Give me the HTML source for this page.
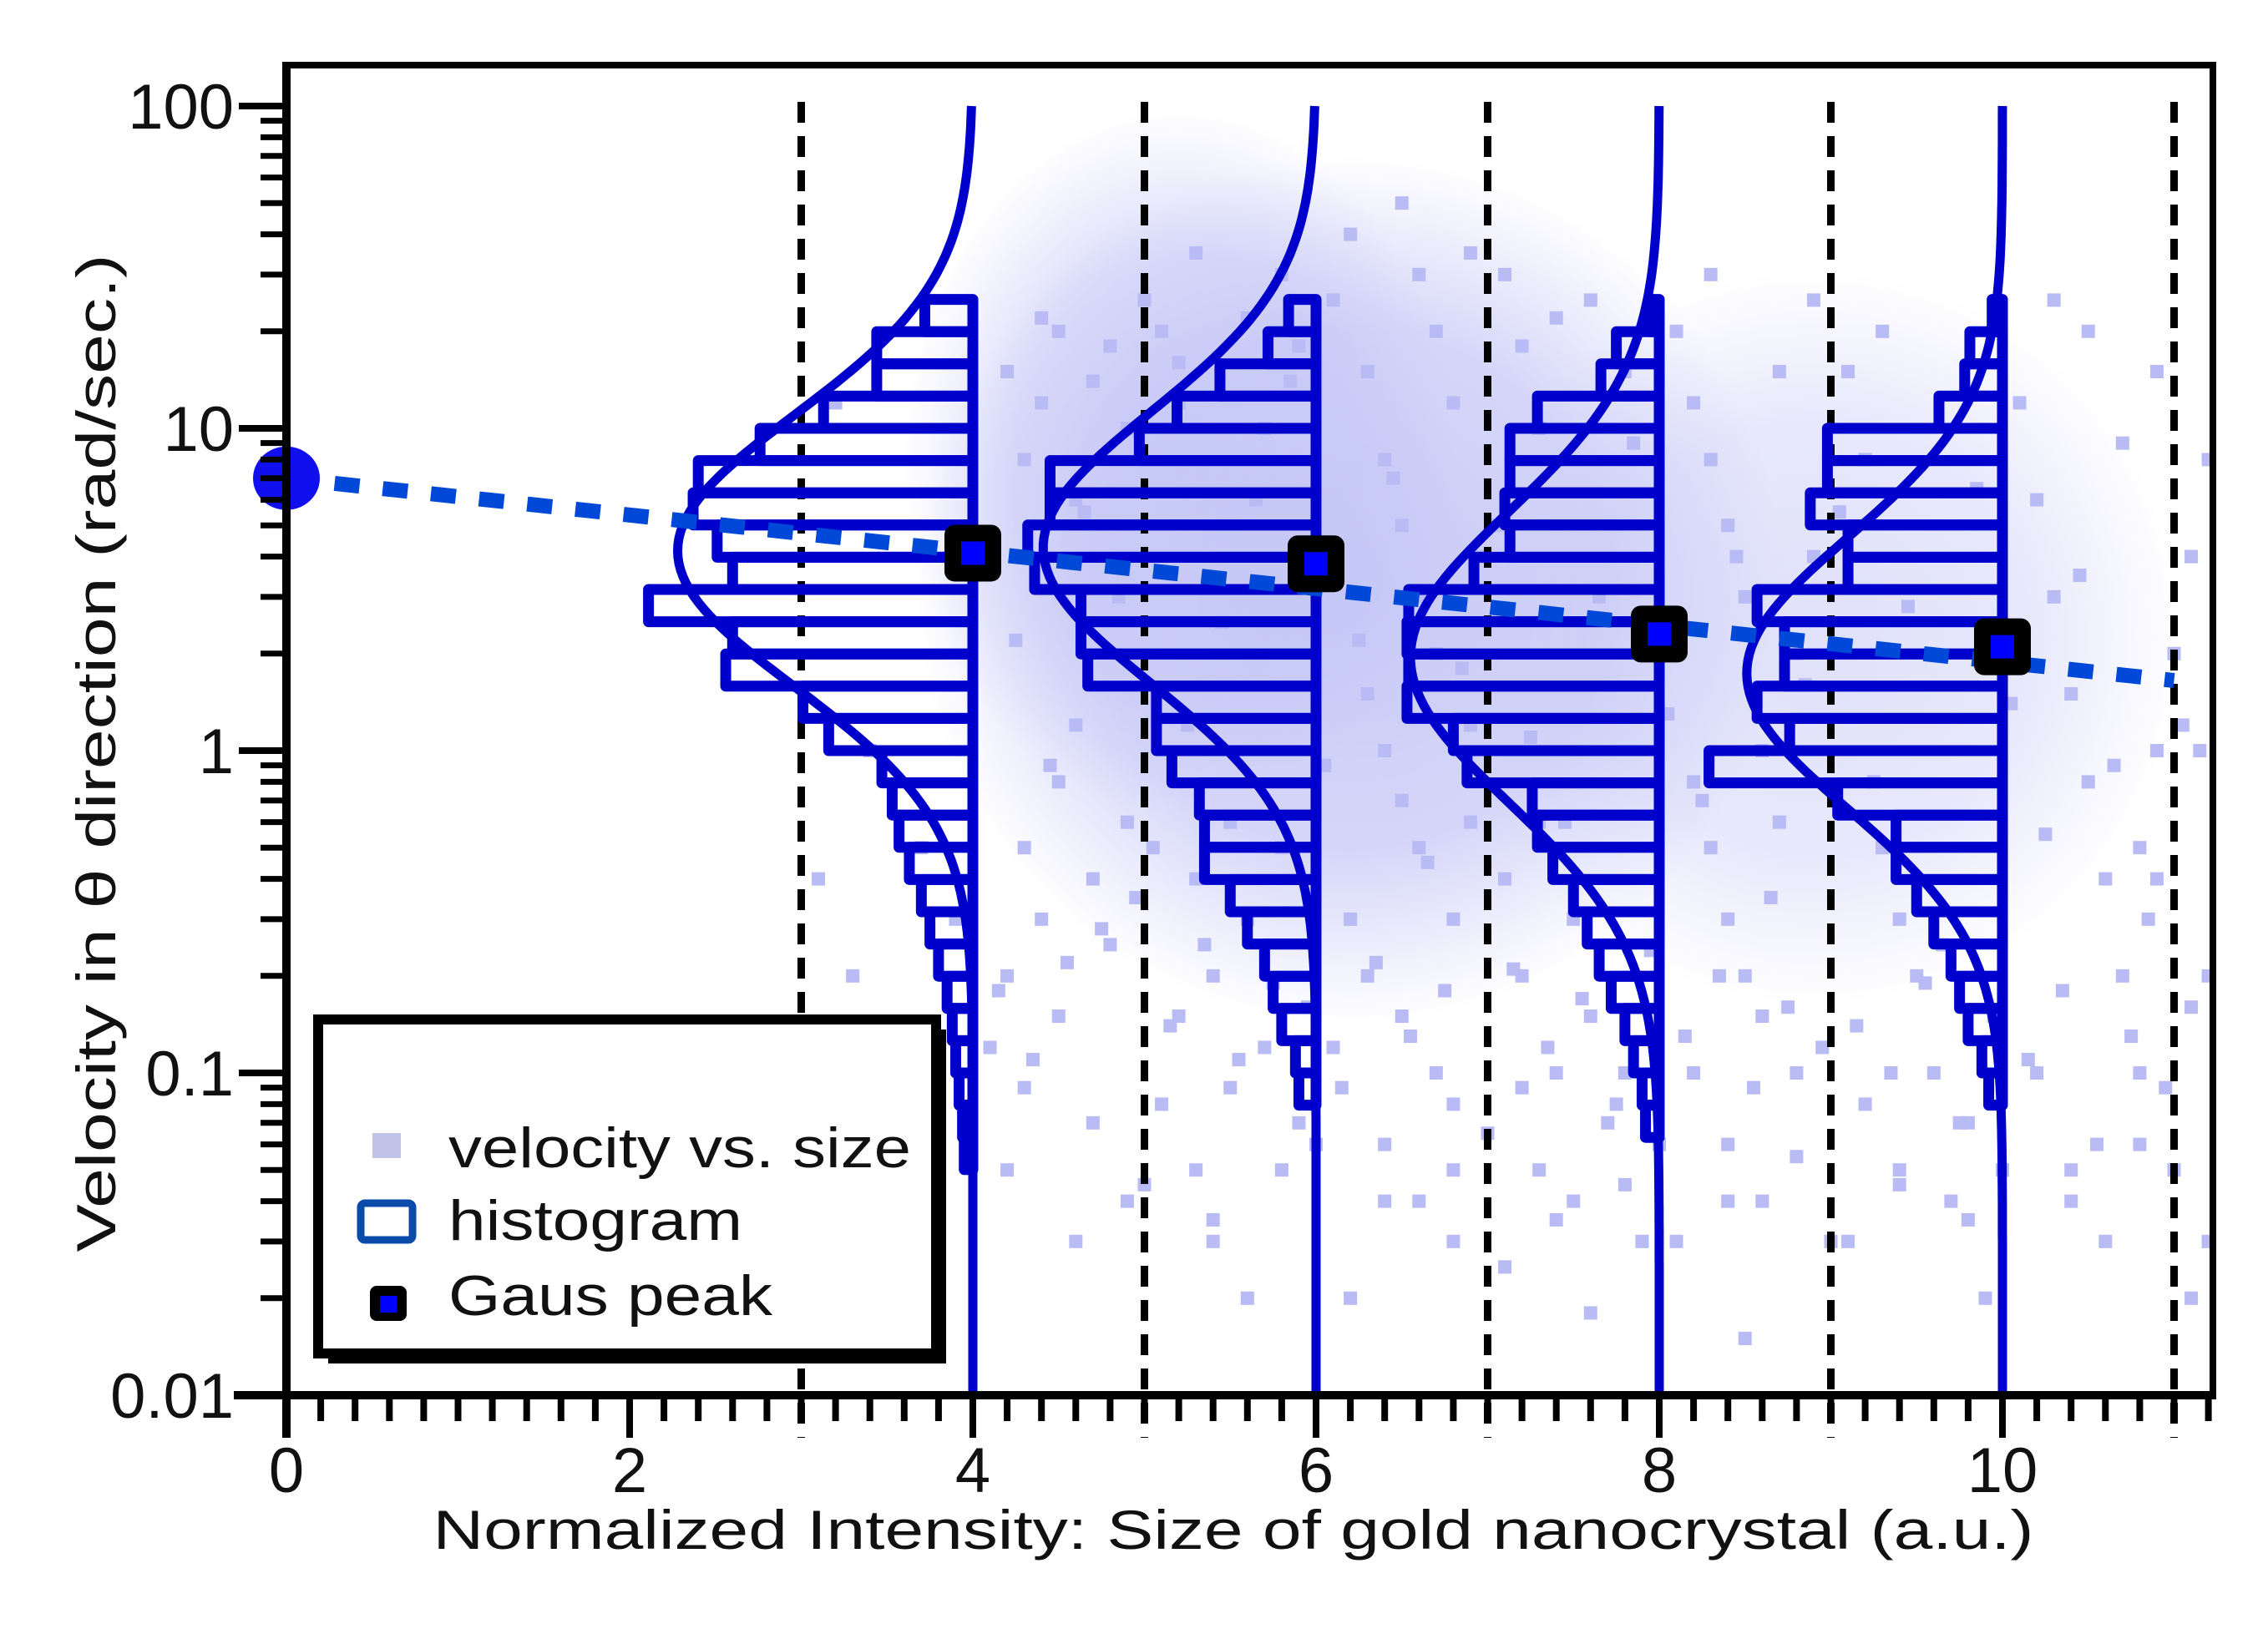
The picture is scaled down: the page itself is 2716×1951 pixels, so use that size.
<!DOCTYPE html>
<html><head><meta charset="utf-8"><style>
html,body{margin:0;padding:0;background:#fff;}
svg{display:block;font-family:"Liberation Sans",Arial,sans-serif;}
</style></head><body>
<svg id="chart" xmlns="http://www.w3.org/2000/svg" width="2716" height="1951" viewBox="0 0 2716 1951">
<defs>
<clipPath id="plotClip"><rect x="343" y="78" width="2305" height="1593"/></clipPath>
<radialGradient id="hazeGrad"><stop offset="0" stop-color="#c3c5f6" stop-opacity="0.95"/><stop offset="0.6" stop-color="#c3c5f6" stop-opacity="0.7"/><stop offset="1" stop-color="#c3c5f6" stop-opacity="0"/></radialGradient>
</defs>
<rect x="0" y="0" width="2716" height="1951" fill="#fff"/>
<g id="haze" clip-path="url(#plotClip)"></g>
<g id="scatter" clip-path="url(#plotClip)"></g>
<g id="vlines"></g>
<g id="hists"></g>
<g id="curves"></g>
<g id="fit"></g>
<g id="peaks"></g>
<g id="axes"></g>
<g id="legend">
  <rect x="393" y="1233" width="740" height="400" fill="#000"/>
  <rect x="381" y="1221" width="740" height="400" fill="#fff" stroke="#000" stroke-width="12"/>
  <rect x="446" y="1357" width="34" height="30" fill="#c0c2ea"/>
  <text x="537" y="1398" font-size="68" textLength="554" lengthAdjust="spacingAndGlyphs" fill="#111">velocity vs. size</text>
  <rect x="432" y="1441" width="62" height="44" rx="5" fill="#fff" stroke="#0a4aa8" stroke-width="9"/>
  <text x="537" y="1485" font-size="68" textLength="352" lengthAdjust="spacingAndGlyphs" fill="#111">histogram</text>
  <rect x="443" y="1540" width="44" height="42" rx="8" fill="#000"/>
  <rect x="455" y="1552" width="20" height="20" fill="#0000ff"/>
  <text x="537" y="1575" font-size="68" textLength="388" lengthAdjust="spacingAndGlyphs" fill="#111">Gaus peak</text>
</g>
<text x="1477" y="1855" font-size="66" text-anchor="middle" textLength="1917" lengthAdjust="spacingAndGlyphs" fill="#111">Normalized Intensity: Size of gold nanocrystal (a.u.)</text>
<text transform="translate(138,902) rotate(-90)" x="0" y="0" font-size="66" text-anchor="middle" textLength="1195" lengthAdjust="spacingAndGlyphs" fill="#111">Velocity in θ direction (rad/sec.)</text>
<script>
// ---- data ----
const xTicks = [0, 2, 4, 6, 8, 10];
const xTickLabels = ["0", "2", "4", "6", "8", "10"];
const yTicks = [100, 10, 1, 0.1, 0.01];
const yTickLabels = ["100", "10", "1", "0.1", "0.01"];
const dividerX = [3, 5, 7, 9, 11];
const histCenters = [4, 6, 8, 10];
const binTopLog = 1.4;
const binStep = 0.1;
const hist4 = [0.28,0.56,0.56,0.87,1.24,1.6,1.63,1.49,1.40,1.89,1.40,1.44,0.99,0.84,0.53,0.47,0.43,0.37,0.30,0.25,0.2,0.15,0.12,0.1,0.08,0.06,0.05];
const hist6 = [0.16,0.28,0.56,0.81,1.03,1.55,1.55,1.68,1.64,1.37,1.37,1.33,0.93,0.93,0.84,0.68,0.65,0.65,0.5,0.4,0.3,0.25,0.2,0.12,0.1];
const hist8 = [0.06,0.25,0.34,0.71,0.87,0.87,0.9,0.87,1.08,1.46,1.47,1.46,1.47,1.2,1.12,0.74,0.71,0.62,0.5,0.42,0.35,0.28,0.2,0.15,0.1,0.08];
const hist10 = [0.06,0.19,0.22,0.37,1.02,1.02,1.12,0.9,0.9,1.43,1.27,1.27,1.43,1.24,1.71,0.96,0.62,0.62,0.5,0.4,0.3,0.25,0.2,0.12,0.08];
const fitAmp = [1.72, 1.59, 1.45, 1.49];
const fitMuLog = [0.62, 0.63, 0.29, 0.24];
const fitSigmaLog = [0.42, 0.42, 0.45, 0.42];
const peakX = [4, 6, 8, 10];
const peakY = [4.1, 3.8, 2.3, 2.1];
const originX = 0, originY = 7;
const trendStartX = 0, trendStartY = 7, trendEndX = 11, trendEndY = 1.65;
const scatterX = [4.2,4.3,4.4,4.5,4.6,4.3,4.4,4.5,4.7,4.8,4.9,4.6,4.2,4.8,4.9,4.1,4.3,4.5,4.7,4.2,4.9,4.4,4.7,5.0,4.95,
5.1,5.2,5.3,5.4,5.5,5.2,5.6,5.7,5.8,5.1,5.3,5.5,5.9,5.4,5.6,5.2,5.6,5.8,5.3,5.9,5.7,
6.1,6.2,6.3,6.4,6.5,6.6,6.7,6.3,6.4,6.5,6.6,6.2,6.3,6.5,6.7,6.8,6.9,6.1,6.4,6.6,6.8,6.9,6.95,6.8,6.7,6.6,6.5,6.9,6.2,6.8,
7.1,7.2,7.3,7.1,7.2,7.3,7.4,7.5,7.6,7.7,7.3,7.5,7.8,7.9,7.4,7.6,7.8,7.2,7.1,7.6,
8.1,8.2,8.3,8.4,8.5,8.2,8.3,8.4,8.5,8.6,8.7,8.8,8.9,8.2,8.4,8.6,8.8,8.1,8.5,8.7,8.9,8.3,8.6,
9.1,9.2,9.3,9.4,9.5,9.6,9.2,9.4,9.7,9.1,9.8,9.3,9.9,
10.1,10.2,10.3,10.4,10.5,10.6,10.7,10.8,10.9,11.0,11.1,10.2,10.4,10.6,10.8,11.0,11.2,11.1,10.5,10.9,11.2,10.3,10.7,11.15,10.9,
3.1,3.3,3.5,3.6,3.8,3.4,3.7,3.9,3.2,3.5,
5.05,5.25,5.45,5.65,5.85,6.05,6.25,6.45,6.65,6.85,7.05,7.25,7.45,7.65,7.85,8.05,8.25,8.45,8.65,8.85,9.05,9.25,9.45,9.65,9.85,10.05,10.25,10.45,10.65,10.85,11.05,4.25,4.45,4.65,4.85,
4.15,4.35,4.55,4.75,5.15,5.35,5.55,5.75,5.95,6.15,6.35,6.55,6.75,7.15,7.35,7.55,7.75,7.95,8.15,8.35,8.55,8.75,8.95,9.15,9.35,9.55,9.75,9.95,10.15,10.35,10.55,10.75,10.95,11.1,
4.6,5.0,5.4,5.8,6.0,6.4,6.8,7.0,7.4,7.8,8.0,8.4,8.8,9.0,9.4,9.8,10.0,10.4,10.8,11.2];
const scatterY = [15,8,12,20,6,0.5,0.3,0.8,0.4,18,10,1.2,0.2,0.25,0.6,0.12,0.09,0.15,0.07,0.05,0.04,22,14,25,0.35,
20,12,0.4,0.2,0.6,0.15,0.3,0.12,0.5,0.08,0.05,0.09,0.07,0.03,0.02,16,22,30,35,18,10,
25,40,15,8,5,3,2,1.5,1,0.7,0.5,0.3,0.2,0.15,0.1,0.3,0.6,0.12,0.06,0.04,0.08,1.2,4,12,20,30,50,35,0.02,0.03,
30,18,10,0.4,0.2,0.6,0.1,0.3,0.15,0.07,0.05,0.04,0.1,0.03,22,25,15,0.09,0.025,0.018,
20,12,8,5,3,0.8,0.5,0.3,0.2,1,0.6,2,4,0.1,0.06,0.04,0.1,0.03,0.015,15,25,30,0.15,
15,8,0.5,0.3,0.2,0.1,0.08,0.05,0.04,0.03,0.07,20,0.02,
12,6,3,1.5,0.8,0.4,0.2,0.5,1,2,4,0.1,0.05,0.03,0.1,0.05,0.2,0.02,20,15,8,25,9,1,0.4,
0.4,0.2,0.1,0.05,0.03,1,0.5,0.3,12,0.07,
0.5,1.2,2.5,6,14,0.9,2.2,7,0.45,1.8,5,1.1,0.6,3,9,1.3,0.7,4,0.35,1.6,5.5,0.8,2.8,0.25,6.5,1.4,0.55,3.5,0.9,0.3,1.2,2.2,0.9,5.5,3,
0.18,0.11,0.22,0.28,0.14,0.25,0.11,0.19,0.16,0.09,0.22,0.13,0.18,0.21,0.12,0.17,0.08,0.24,0.13,0.2,0.09,0.16,0.12,0.14,0.1,0.19,0.07,0.15,0.11,0.18,0.06,0.13,0.09,0.16,
0.03,0.045,0.035,0.05,0.06,0.04,0.05,0.065,0.035,0.045,0.06,0.04,0.055,0.03,0.045,0.035,0.05,0.04,0.06,0.03];

// ---- scales ----
const X = v => 343 + 205.5 * v;
const YL = l => 127 + 386 * (2 - l);
const Y = v => YL(Math.log10(v));
const NS = "http://www.w3.org/2000/svg";
function mk(tag, parent, attrs) {
  const el = document.createElementNS(NS, tag);
  for (const k in attrs) el.setAttribute(k, attrs[k]);
  parent.appendChild(el);
  return el;
}

// haze
const haze = document.getElementById('haze');
let h1 = mk('ellipse', haze, {cx: X(6.2), cy: YL(0.5), rx: 520, ry: 520, fill: 'url(#hazeGrad)'});


let h3 = mk('ellipse', haze, {cx: X(5.2), cy: YL(0.9), rx: 330, ry: 420, fill: 'url(#hazeGrad)', opacity: 0.8});


let h2 = mk('ellipse', haze, {cx: X(8.9), cy: YL(0.35), rx: 440, ry: 440, fill: 'url(#hazeGrad)', opacity: 0.55});



// scatter
const sc = document.getElementById('scatter');
for (let i = 0; i < scatterX.length; i++) {
  const p = mk('rect', sc, {x: X(scatterX[i]) - 8, y: Y(scatterY[i]) - 8, width: 16, height: 16, fill: '#b9bbf5'});
  
  
}

// divider dashed lines
const vl = document.getElementById('vlines');
dividerX.forEach(d => {
  const l = mk('line', vl, {x1: X(d), x2: X(d), y1: 122, y2: 1722, stroke: '#000', 'stroke-width': 9, 'stroke-dasharray': '25 16'});
  
  
});

// histograms
const hg = document.getElementById('hists');
const hists = [hist4, hist6, hist8, hist10];
hists.forEach((h, i) => {
  const c = histCenters[i];
  h.forEach((w, k) => {
    const top = YL(binTopLog - k * binStep), bot = YL(binTopLog - (k + 1) * binStep);
    const r = mk('rect', hg, {x: X(c - w), y: top, width: X(c) - X(c - w), height: bot - top, fill: 'none', stroke: '#0000cc', 'stroke-width': 13, 'stroke-linejoin': 'round'});
    
    
  });
});

// gaussian curves
const cg = document.getElementById('curves');
histCenters.forEach((c, i) => {
  let d = '';
  for (let l = 2; l >= -2.0001; l -= 0.02) {
    const w = fitAmp[i] * Math.exp(-Math.pow(l - fitMuLog[i], 2) / (2 * fitSigmaLog[i] * fitSigmaLog[i]));
    d += (d ? 'L' : 'M') + X(c - w).toFixed(1) + ',' + YL(l).toFixed(1);
  }
  const p = mk('path', cg, {d: d, fill: 'none', stroke: '#0000cc', 'stroke-width': 11});
  
  
});

// trend line
const fg = document.getElementById('fit');
const tl = mk('line', fg, {x1: X(trendStartX), y1: Y(trendStartY), x2: X(trendEndX), y2: Y(trendEndY), stroke: '#0048d8', 'stroke-width': 18, 'stroke-dasharray': '30 28'});



// peaks
const pg = document.getElementById('peaks');
const oc = mk('ellipse', pg, {cx: X(originX), cy: Y(originY), rx: 40, ry: 38, fill: '#1010ee'});


peakX.forEach((px, i) => {
  const b = mk('rect', pg, {x: X(px) - 34, y: Y(peakY[i]) - 34, width: 68, height: 68, rx: 12, fill: '#000'});
  
  
  const ci = mk('rect', pg, {x: X(px) - 14, y: Y(peakY[i]) - 14, width: 28, height: 28, fill: '#0000ff'});
  
  
});

// axes
const ax = document.getElementById('axes');
const frame = mk('path', ax, {d: 'M343,78 H2650 V1671', fill: 'none', stroke: '#000', 'stroke-width': 8});


const xa = mk('line', ax, {x1: 280, x2: 2654, y1: 1671, y2: 1671, stroke: '#000', 'stroke-width': 10});


const ya = mk('line', ax, {x1: 343, x2: 343, y1: 74, y2: 1722, stroke: '#000', 'stroke-width': 10});


for (let k = 0; k <= 56; k++) {
  const v = k * 0.2;
  const major = (k % 10 === 0);
  const t = mk('line', ax, {x1: X(v), x2: X(v), y1: 1671, y2: major ? 1722 : 1702, stroke: '#000', 'stroke-width': 8});
  
  
}
xTicks.forEach((v, i) => {
  const t = mk('text', ax, {x: X(v), y: 1787, 'font-size': 76, 'text-anchor': 'middle', fill: '#111'});
  t.textContent = xTickLabels[i];
  
  
});
yTicks.forEach((v, i) => {
  const t = mk('line', ax, {x1: 286, x2: 343, y1: Y(v), y2: Y(v), stroke: '#000', 'stroke-width': 8});
  
  
  const lb = mk('text', ax, {x: 280, y: Y(v) + 27, 'font-size': 76, 'text-anchor': 'end', fill: '#111'});
  lb.textContent = yTickLabels[i];
  
  
  if (i < yTicks.length - 1) {
    for (let m = 2; m <= 9; m++) {
      const mv = yTicks[i + 1] * m;
      const mt = mk('line', ax, {x1: 312, x2: 343, y1: Y(mv), y2: Y(mv), stroke: '#000', 'stroke-width': 7});
      
      
    }
  }
});
</script>
</svg>
</body></html>
